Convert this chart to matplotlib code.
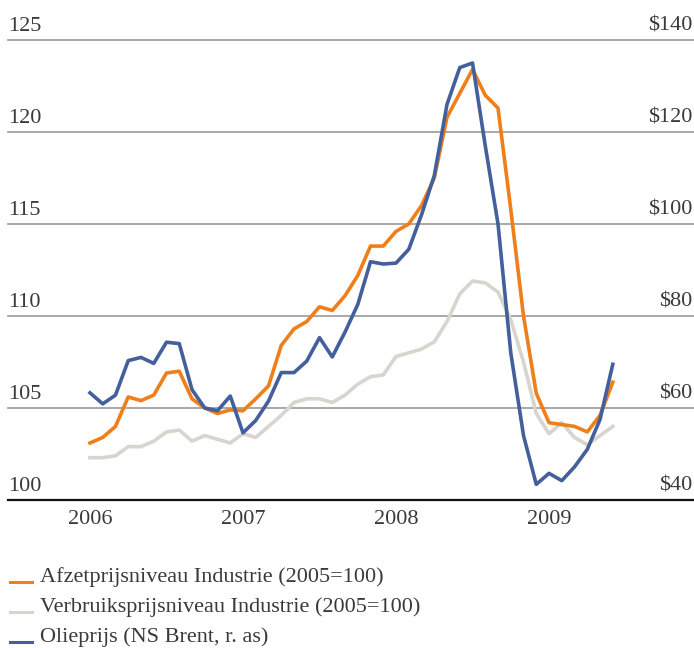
import numpy as np
import matplotlib
matplotlib.use('Agg')
from matplotlib import pyplot as plt
from matplotlib.lines import Line2D
from matplotlib import transforms

# monthly data, jan 2006 - jun 2009
years = ['2006', '2007', '2008', '2009']
afzet = [103.1, 103.4, 104.0, 105.6, 105.4, 105.7, 106.9, 107.0, 105.5, 105.0,
         104.7, 104.9, 104.85, 105.5, 106.2, 108.4, 109.3, 109.7, 110.5, 110.3,
         111.1, 112.2, 113.8, 113.8, 114.6, 115.0, 116.0, 117.5, 120.8, 122.1,
         123.4, 122.0, 121.3, 115.8, 110.0, 105.8, 104.2, 104.1, 104.0, 103.7,
         104.6, 106.4]
verbruik = [102.3, 102.3, 102.4, 102.9, 102.9, 103.2, 103.7, 103.8, 103.2, 103.5,
            103.3, 103.1, 103.6, 103.4, 104.0, 104.6, 105.3, 105.5, 105.5, 105.3,
            105.7, 106.3, 106.7, 106.8, 107.8, 108.0, 108.2, 108.6, 109.7, 111.2,
            111.9, 111.8, 111.3, 109.8, 107.5, 104.7, 103.6, 104.2, 103.4, 103.0,
            103.5, 104.0]
olie = [63.3, 60.9, 62.8, 70.3, 71.0, 69.7, 74.3, 74.0, 64.0, 60.0,
        59.4, 62.6, 54.6, 57.3, 61.5, 67.7, 67.7, 70.2, 75.3, 71.1,
        76.5, 82.5, 91.8, 91.3, 91.5, 94.5, 102.0, 110.5, 126.0, 134.0,
        135.0, 117.0, 100.0, 72.0, 54.0, 43.4, 45.8, 44.2, 47.2, 51.0,
        57.5, 69.5]
left_ticks = [100, 105, 110, 115, 120, 125]
right_ticks = [40, 60, 80, 100, 120, 140]
labels = ['Afzetprijsniveau Industrie (2005=100)',
          'Verbruiksprijsniveau Industrie (2005=100)',
          'Olieprijs (NS Brent, r. as)']

c_orange = '#EF7F1A'
c_grey = '#D8D5CF'
c_blue = '#435F9C'
txt = '#3a3a3a'
font = 'Liberation Serif'
fs = 16

W, H = 694, 648
fig = plt.figure(figsize=(W / 100, H / 100), dpi=100)
ax = fig.add_axes([8 / W, 1 - 500 / H, (W - 8) / W, 460 / H])
ax2 = ax.twinx()

months = np.arange(len(afzet))
ax.set_xlim(-6.43, 47.37)
ax.set_ylim(100, 125)
ax2.set_ylim(40, 140)

for v in left_ticks[1:]:
    ax.axhline(v, color='#9a9a9a', lw=1.2, zorder=0, clip_on=False)

ax.plot(months, verbruik, color=c_grey, lw=2.6, solid_joinstyle='round', zorder=2)
ax.plot(months, afzet, color=c_orange, lw=2.6, solid_joinstyle='round', zorder=4)
ax2.plot(months, olie, color=c_blue, lw=2.6, solid_joinstyle='round', zorder=3)

for a in (ax, ax2):
    for s in ['top', 'left', 'right']:
        a.spines[s].set_visible(False)
    a.set_yticks([])
ax2.spines['bottom'].set_visible(False)
ax.spines['bottom'].set_color('#111111')
ax.spines['bottom'].set_linewidth(1.6)
ax.patch.set_visible(False)

ax.set_xticks([0, 12, 24, 36])
ax.set_xticklabels(years, family=font, fontsize=fs, color=txt)
ax.tick_params(axis='x', length=0, pad=7)

up = transforms.offset_copy(ax.get_yaxis_transform(), fig=fig, x=0, y=4, units='dots')
for v in left_ticks:
    ax.text(0, v, str(v), transform=up, ha='left', va='bottom',
            family=font, fontsize=fs, color=txt)
up2 = transforms.offset_copy(ax2.get_yaxis_transform(), fig=fig, x=-2, y=4, units='dots')
for v in right_ticks:
    ax2.text(1, v, '$%d' % v, transform=up2, ha='right', va='bottom',
             family=font, fontsize=fs, color=txt)

# legend
for i, (lab, c) in enumerate(zip(labels, [c_orange, c_grey, c_blue])):
    y = 577 + 30 * i
    fig.add_artist(Line2D([10 / W, 32 / W], [1 - (y + 5) / H] * 2, color=c, lw=2.2))
    fig.text(40 / W, 1 - y / H, lab, ha='left', va='center',
             family=font, fontsize=fs, color=txt)

plt.savefig('out.png', dpi=100)
